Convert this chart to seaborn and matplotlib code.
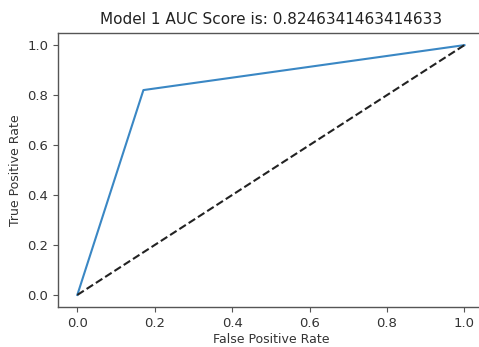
import matplotlib
matplotlib.use("Agg")
import matplotlib.pyplot as plt
import seaborn as sns
import pandas as pd

fpr = [0.0, 7/41, 1.0]
tpr = [0.0, 0.82, 1.0]
diag_x = [0.0, 1.0]
diag_y = [0.0, 1.0]
auc_score = 0.8246341463414633

fig = plt.figure(figsize=(4.79, 3.47), dpi=100)
ax = fig.add_axes([0.121, 0.114, 0.889, 0.792])

roc = pd.DataFrame({"fpr": fpr, "tpr": tpr})
sns.lineplot(data=roc, x="fpr", y="tpr", ax=ax, color="#3a87c4", linewidth=1.5,
             sort=False, estimator=None)
diag = pd.DataFrame({"x": diag_x, "y": diag_y})
sns.lineplot(data=diag, x="x", y="y", ax=ax, color="#222222", linestyle="--",
             linewidth=1.5, sort=False, estimator=None)

for name, s in ax.spines.items():
    s.set_visible(name != "right")
    s.set_color("#555555")
    s.set_linewidth(1.0)

ax.set_xticks([0.0, 0.2, 0.4, 0.6, 0.8, 1.0])
ax.set_yticks([0.0, 0.2, 0.4, 0.6, 0.8, 1.0])
ax.set_xlabel("False Positive Rate", fontsize=9, color="#333333", labelpad=2)
ax.set_ylabel("True Positive Rate", fontsize=9, color="#333333")
ax.set_title(f"Model 1 AUC Score is: {auc_score}", fontsize=11, color="#222222")
ax.tick_params(labelsize=9.5, colors="#555555", labelcolor="#333333",
               direction="out", length=3.5, width=0.8,
               bottom=True, left=True, top=False, right=False)

fig.savefig("out.png", dpi=100)
